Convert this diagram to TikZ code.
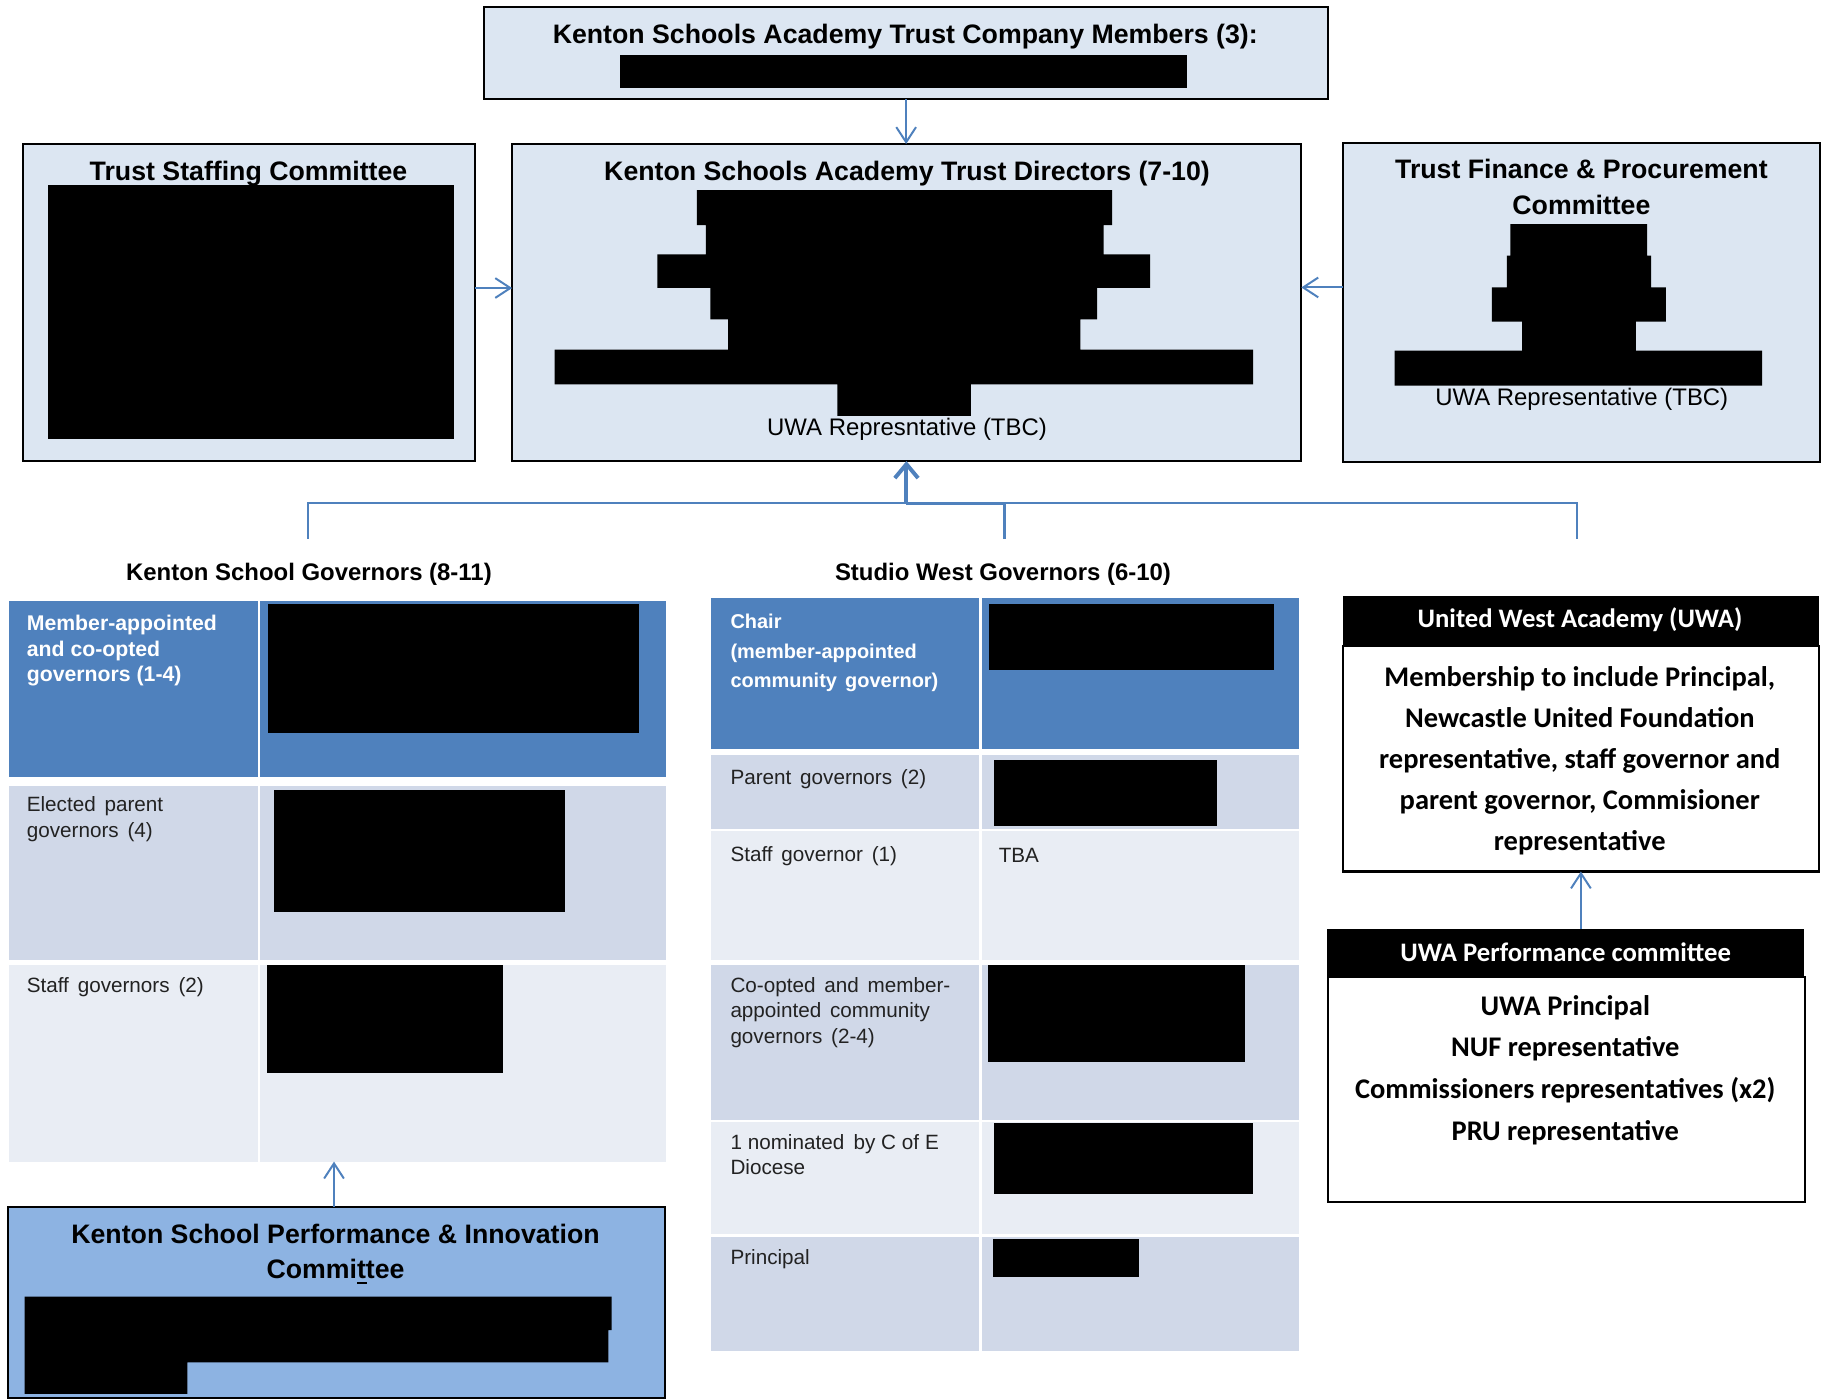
\documentclass[tikz,border=0pt]{standalone}
\usepackage{fontspec}
\setmainfont{Liberation Sans}
\newfontfamily\calibri{Carlito}
\usetikzlibrary{arrows.meta,fit}
\definecolor{topfill}{HTML}{DCE6F2}
\definecolor{acc}{HTML}{4F81BD}
\definecolor{rowdark}{HTML}{D0D8E8}
\definecolor{rowlight}{HTML}{E9EDF4}
\definecolor{kspfill}{HTML}{8DB3E2}
\definecolor{celltext}{HTML}{222222}
\newcommand{\fsz}[2]{\fontsize{#1}{#2}\selectfont}
\newcommand{\widesp}{\spaceskip 7.6pt\relax}
\newcommand{\widespb}{\spaceskip 7pt\relax}
\newcommand{\normsp}{\spaceskip 5pt\relax}
\begin{document}
\begin{tikzpicture}[x=1pt,y=-1pt,
  box/.style={draw=black,line width=1.8pt,fill=topfill,inner sep=0pt,outer sep=0pt},
  hdrbox/.style={fill=black,draw=none,inner sep=0pt,outer sep=0pt},
  wbox/.style={draw=black,line width=1.8pt,fill=white,inner sep=0pt,outer sep=0pt},
  cellbox/.style={inner sep=0pt,outer sep=0pt,draw=none},
  txt/.style={inner sep=0pt,outer sep=0pt},
  ttl/.style={txt,font=\bfseries\fsz{23}{28}},
  celltxt/.style={txt,text=celltext,font=\fsz{17.8}{22}\widesp},
  arr/.style={draw=acc,line width=1.7pt,-{Straight Barb[length=13pt,width=17pt]}},
  thickarr/.style={draw=acc,line width=3.4pt,-{Straight Barb[length=12pt,width=20pt]}},
  conn/.style={draw=acc,line width=1.7pt},
  redact/.style={fill=black}]
\useasboundingbox (0,0) rectangle (1568,1205);
\fill[white] (0,0) rectangle (1568,1205);

% ---------- top boxes ----------
\node[box, fit={(417,6.2) (1143.5,85.5)}] (mem) {};
\node[box, fit={(20,124) (409,397)}] (staff) {};
\node[box, fit={(441,124) (1120.5,397)}] (dir) {};
\node[box, fit={(1156.5,123.5) (1567,397.5)}] (fin) {};

\node[ttl, anchor=base] (memt) at (779.5,37.7) {Kenton Schools Academy Trust Company Members (3):};
\fill[redact] (534,47) rectangle (1021.8,76);

\node[ttl, anchor=base] (stafft) at (214,155.2) {Trust Staffing Committee};
\fill[redact] (41.5,159) rectangle (391,378);

\node[ttl, anchor=base] (dirt) at (781,155.2) {Kenton Schools Academy Trust Directors (7-10)};
\fill[redact] (600,163.6) -- (957.7,163.6) -- (957.7,193.8) -- (950.2,193.8) -- (950.2,219) -- (990.3,219) -- (990.3,247.8) -- (944.7,247.8) -- (944.7,275) -- (930.2,275) -- (930.2,301) -- (1078.9,301) -- (1078.9,331) -- (836,331) -- (836,358) -- (721,358) -- (721,331) -- (477.6,331) -- (477.6,301) -- (627,301) -- (627,275) -- (611.7,275) -- (611.7,247.8) -- (566,247.8) -- (566,219) -- (607.7,219) -- (607.7,193.8) -- (600,193.8) -- cycle;
\node[txt, anchor=base, font=\fsz{20.6}{24}] (dirrep) at (781,375) {UWA Represntative (TBC)};

\node[txt, anchor=north, align=center, font=\bfseries\fsz{23}{31}] (fint) at (1361.7,131.7) {\strut Trust Finance \& Procurement\\Committee};
\fill[redact] (1300.6,193) -- (1418.3,193) -- (1418.3,220) -- (1421.8,220) -- (1421.8,247.5) -- (1434.3,247.5) -- (1434.3,277) -- (1408.6,277) -- (1408.6,302) -- (1517.3,302) -- (1517.3,332) -- (1200.9,332) -- (1200.9,302) -- (1310.6,302) -- (1310.6,277) -- (1284.6,277) -- (1284.6,247.5) -- (1297.5,247.5) -- (1297.5,220) -- (1300.6,220) -- cycle;
\node[txt, anchor=base, font=\fsz{20.6}{24}] (finrep) at (1362,348.8) {UWA Representative (TBC)};

% ---------- top connectors ----------
\draw[arr] (mem.south) -- (mem.south |- dir.north);
\draw[arr] ([yshift=12.5pt]staff.east) -- ([yshift=12.5pt]staff.east -| dir.west);
\draw[arr] ([yshift=13pt]fin.west) -- ([yshift=13pt]fin.west -| dir.east);

% ---------- tree ----------
\coordinate (ksdrop) at (265.3,464);
\coordinate (swdrop) at (865,464);
\coordinate (uwadrop) at (1358.2,464);
\coordinate (hub) at (780.5,433.5);
\draw[conn] (ksdrop) |- (hub);
\draw[conn] (uwadrop) |- (hub);
\draw[conn, line width=2.8pt] (swdrop) |- (hub);
\draw[thickarr] (hub) -- (hub |- dir.south);

\node[txt, anchor=base, font=\bfseries\fsz{20.6}{24}] (kslab) at (266,500) {Kenton School Governors (8-11)};
\node[txt, anchor=base, font=\bfseries\fsz{20.6}{24}] (swlab) at (863.6,500) {Studio West Governors (6-10)};

% ---------- Kenton School table ----------
\node[cellbox, fill=acc, fit={(7.7,517.7) (222.2,668.8)}] (ks1a) {};
\node[cellbox, fill=acc, fit={(223.7,517.7) (573.5,668.8)}] (ks1b) {};
\node[cellbox, fill=rowdark, fit={(7.7,676.8) (222.2,826.9)}] (ks2a) {};
\node[cellbox, fill=rowdark, fit={(223.7,676.8) (573.5,826.9)}] (ks2b) {};
\node[cellbox, fill=rowlight, fit={(7.7,830.5) (222.2,1000.2)}] (ks3a) {};
\node[cellbox, fill=rowlight, fit={(223.7,830.5) (573.5,1000.2)}] (ks3b) {};

\node[txt, anchor=north west, align=left, text=white, font=\bfseries\fsz{18.3}{22}] (ks1t) at (23.1,527.6) {\strut Member-appointed\\and co-opted\\governors (1-4)};
\node[celltxt, anchor=north west, align=left] (ks2t) at (23.1,683.3) {\strut Elected parent\\governors (4)};
\node[celltxt, anchor=base west] (ks3t) at (23.1,854.3) {Staff governors (2)};
\fill[redact] (230.6,520) rectangle (550.4,630.9);
\fill[redact] (235.6,680) rectangle (486.2,785.4);
\fill[redact] (229.9,830.5) rectangle (433.2,923.6);

% ---------- Studio West table ----------
\node[cellbox, fill=acc, fit={(612.2,514.9) (843.4,644.9)}] (sw1a) {};
\node[cellbox, fill=acc, fit={(845.9,514.9) (1118.3,644.9)}] (sw1b) {};
\node[cellbox, fill=rowdark, fit={(612.2,650.5) (843.4,713.5)}] (sw2a) {};
\node[cellbox, fill=rowdark, fit={(845.9,650.5) (1118.3,713.5)}] (sw2b) {};
\node[cellbox, fill=rowlight, fit={(612.2,715.5) (843.4,826.9)}] (sw3a) {};
\node[cellbox, fill=rowlight, fit={(845.9,715.5) (1118.3,826.9)}] (sw3b) {};
\node[cellbox, fill=rowdark, fit={(612.2,830.5) (843.4,964)}] (sw4a) {};
\node[cellbox, fill=rowdark, fit={(845.9,830.5) (1118.3,964)}] (sw4b) {};
\node[cellbox, fill=rowlight, fit={(612.2,966.5) (843.4,1062.5)}] (sw5a) {};
\node[cellbox, fill=rowlight, fit={(845.9,966.5) (1118.3,1062.5)}] (sw5b) {};
\node[cellbox, fill=rowdark, fit={(612.2,1065.4) (843.4,1163.2)}] (sw6a) {};
\node[cellbox, fill=rowdark, fit={(845.9,1065.4) (1118.3,1163.2)}] (sw6b) {};

\node[txt, anchor=north west, align=left, text=white, font=\bfseries\fsz{17.2}{25.5}\widespb] (sw1t) at (629,523.4) {\strut Chair\\(member-appointed\\community governor)};
\node[celltxt, anchor=base west] (sw2t) at (629,675.8) {Parent governors (2)};
\node[celltxt, anchor=base west] (sw3t) at (629,741.5) {Staff governor (1)};
\node[celltxt, anchor=base west] (sw3v) at (860,742.6) {TBA};
\node[celltxt, anchor=north west, align=left] (sw4t) at (629,838.9) {\strut Co-opted and member-\\appointed community\\governors (2-4)};
\node[celltxt, anchor=north west, align=left, font=\fsz{17.8}{22}\normsp] (sw5t) at (629,974.3) {\strut 1 nominated\hspace{3pt} by C of E\\Diocese};
\node[celltxt, anchor=base west] (sw6t) at (629,1089.2) {Principal};
\fill[redact] (851.2,520) rectangle (1097.2,576.7);
\fill[redact] (856.1,654.7) rectangle (1047.6,711);
\fill[redact] (850.5,830.5) rectangle (1071.6,914.1);
\fill[redact] (856,966.9) rectangle (1079,1028);
\fill[redact] (855,1067) rectangle (981,1099.6);

% ---------- Kenton School Performance & Innovation Committee ----------
\node[box, fill=kspfill, fit={(6.5,1039.5) (572.7,1203.8)}] (ksp) {};
\node[txt, anchor=north, align=center, font=\bfseries\fsz{23}{29.5}] (kspt) at (288.9,1050.4) {\strut Kenton School Performance \& Innovation\\Committee};
\fill[black] (307.5,1103.6) rectangle (316,1105.8);
\fill[redact] (21.2,1116.5) -- (526.6,1116.5) -- (526.6,1145.2) -- (523.9,1145.2) -- (523.9,1173) -- (161.4,1173) -- (161.4,1200.3) -- (21.2,1200.3) -- cycle;
\draw[arr] ([xshift=-2pt]ksp.north) -- ([xshift=-2pt]ksp.north |- ks3b.south);

% ---------- UWA ----------
\node[hdrbox, fit={(1156,513) (1566.5,555.5)}] (uwahead) {};
\node[wbox, fit={(1156.5,556.5) (1566,750.4)}] (uwabody) {};
\node[txt, anchor=base, text=white, font=\calibri\bfseries\fsz{23}{28}] (uwaht) at (1360.5,540.7) {United West Academy (UWA)};
\node[txt, anchor=north, align=center, font=\calibri\bfseries\fsz{24.5}{35.3}] (uwabt) at (1360.3,566.2) {\strut Membership to include Principal,\\Newcastle United Foundation\\representative, staff governor and\\parent governor, Commisioner\\representative};

\node[hdrbox, fit={(1143,800) (1553,841)}] (perfhead) {};
\node[wbox, fit={(1143.8,841) (1554,1034.8)}] (perfbody) {};
\node[txt, anchor=base, text=white, font=\calibri\bfseries\fsz{23}{28}] (perfht) at (1348.2,828.3) {UWA Performance committee};
\node[txt, anchor=north, align=center, font=\calibri\bfseries\fsz{24.5}{35.8}] (perfbt) at (1347.8,849.2) {\strut UWA Principal\\NUF representative\\Commissioners representatives (x2)\\PRU representative};

\draw[arr] (perfhead.north -| uwabody.south) -- (uwabody.south);
\end{tikzpicture}
\end{document}
